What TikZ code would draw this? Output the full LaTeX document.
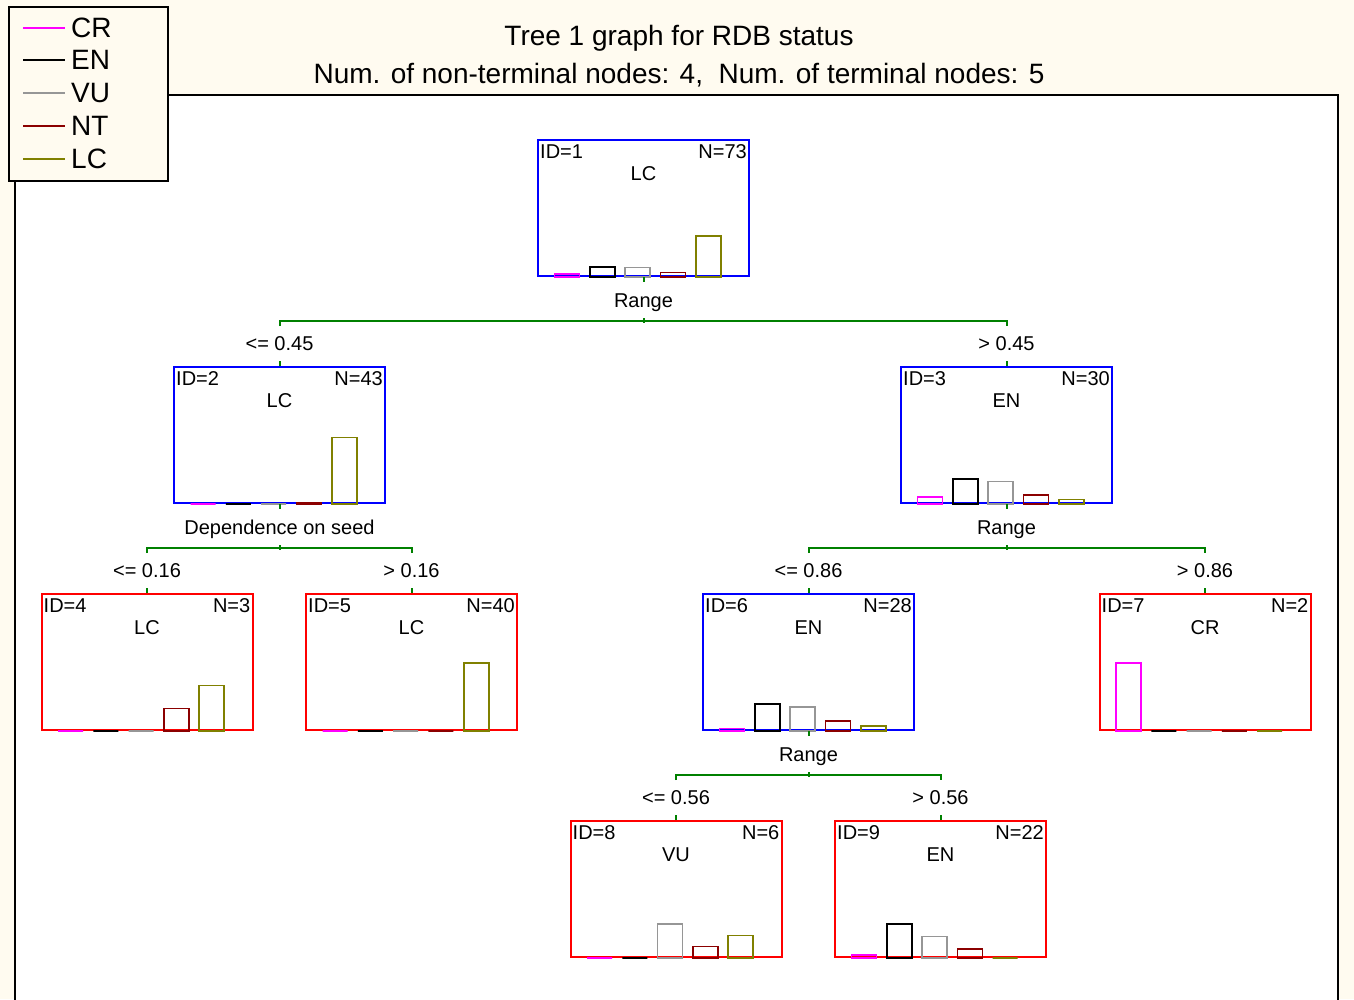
\documentclass[tikz,border=0pt]{standalone}
\usepackage{fontspec}
\setmainfont{Liberation Sans}
\usetikzlibrary{calc}
\definecolor{cream}{RGB}{255,251,240}
\definecolor{treegreen}{RGB}{0,128,0}
\definecolor{crc}{RGB}{255,0,255}
\definecolor{enc}{RGB}{0,0,0}
\definecolor{vuc}{RGB}{150,150,150}
\definecolor{ntc}{RGB}{139,0,0}
\definecolor{lcc}{RGB}{128,128,0}
\newcommand\histbars[7]{%
  \foreach \c/\v [count=\i from 0] in {crc/#3,enc/#4,vuc/#5,ntc/#6,lcc/#7}{%
    \draw[histbar,draw=\c] ($(#1.south west)+({17.5+35.3*\i},0)$) rectangle ++(25,{-68*\v/#2});
  }}
\newcommand\treenode[5]{% name, style, position, id, N
  \node[treebox,#2] (#1) at #3 {};
  \node[lbl,anchor=west] (#1id) at ($(#1.north west)+(3,12.5)$) {ID=#4};
  \node[lbl,anchor=east] (#1n) at ($(#1.north east)+(-3,12.5)$) {N=#5};
}
\newcommand\splitconn[6]{% parent, left child, right child, variable, left text, right text
  \draw[splitline] (#1.south) -- ++(0,5);
  \node[lbl] (#1var) at ($(#1.south)+(0,23.5)$) {#4};
  \draw[splitline] ($(#1.south)+(0,41)$) -- ++(0,5);
  \draw[splitline] ($(#2.north)+(0,-40)$) -- ($(#2.north)+(0,-45)$) -- ($(#3.north)+(0,-45)$) -- ($(#3.north)+(0,-40)$);
  \node[lbl] (#2cond) at ($(#2.north)+(0,-22)$) {#5};
  \node[lbl] (#3cond) at ($(#3.north)+(0,-22)$) {#6};
  \draw[splitline] ($(#2.north)+(0,-5)$) -- (#2.north);
  \draw[splitline] ($(#3.north)+(0,-5)$) -- (#3.north);
}
\begin{document}
\begin{tikzpicture}[x=1pt,y=-1pt,
  treebox/.style={draw,line width=2pt,minimum width=211pt,minimum height=136pt,inner sep=0pt,fill=white},
  nonterm/.style={draw=blue},
  term/.style={draw=red},
  lbl/.style={inner sep=0pt,text depth=0pt,font=\fontsize{20}{24}\selectfont},
  titletxt/.style={inner sep=0pt,text depth=0pt,font=\fontsize{28}{32}\selectfont},
  legtxt/.style={inner sep=0pt,text depth=0pt,anchor=west,font=\fontsize{28}{32}\selectfont},
  legline/.style={line width=2pt},
  splitline/.style={draw=treegreen,line width=2pt},
  histbar/.style={line width=1.6pt},
]
\useasboundingbox (0,0) rectangle (1354,999);
\fill[cream] (0,0) rectangle (1354,999);
\draw[line width=2pt,fill=white] (15,95) rectangle (1338,1012);

% title
\node[titletxt] (title1) at (679,35.3) {Tree 1 graph for RDB status};
\node[titletxt] (title2) at (679,73.5) {Num. of non-terminal nodes: 4,\ \ Num. of terminal nodes: 5};

% legend
\draw[line width=2pt,fill=cream] (9,7) rectangle (168,181);
\draw[legline,crc] (23,27.5) -- (65,27.5);
\node[legtxt] (legcr) at (71,27.5) {CR};
\draw[legline,enc] (23,60.3) -- (65,60.3);
\node[legtxt] (legen) at (71,60.3) {EN};
\draw[legline,vuc] (23,93) -- (65,93);
\node[legtxt] (legvu) at (71,93) {VU};
\draw[legline,ntc] (23,126) -- (65,126);
\node[legtxt] (legnt) at (71,126) {NT};
\draw[legline,lcc] (23,159) -- (65,159);
\node[legtxt] (leglc) at (71,159) {LC};

% nodes
\treenode{n1}{nonterm}{(643.5,208)}{1}{73}
\treenode{n2}{nonterm}{(279.5,435)}{2}{43}
\treenode{n3}{nonterm}{(1006.5,435)}{3}{30}
\treenode{n4}{term}{(147,662)}{4}{3}
\treenode{n5}{term}{(411.5,662)}{5}{40}
\treenode{n6}{nonterm}{(808.5,662)}{6}{28}
\treenode{n7}{term}{(1205,662)}{7}{2}
\treenode{n8}{term}{(676,889)}{8}{6}
\treenode{n9}{term}{(940.5,889)}{9}{22}

\node[lbl] (n1cls) at ($(n1.north)+(0,34.5)$) {LC};
\node[lbl] (n2cls) at ($(n2.north)+(0,34.5)$) {LC};
\node[lbl] (n3cls) at ($(n3.north)+(0,34.5)$) {EN};
\node[lbl] (n4cls) at ($(n4.north)+(0,34.5)$) {LC};
\node[lbl] (n5cls) at ($(n5.north)+(0,34.5)$) {LC};
\node[lbl] (n6cls) at ($(n6.north)+(0,34.5)$) {EN};
\node[lbl] (n7cls) at ($(n7.north)+(0,34.5)$) {CR};
\node[lbl] (n8cls) at ($(n8.north)+(0,34.5)$) {VU};
\node[lbl] (n9cls) at ($(n9.north)+(0,34.5)$) {EN};

% bars
\histbars{n1}{73}{3}{11}{10}{5}{44}
\histbars{n2}{43}{0}{0}{0}{1}{42}
\histbars{n3}{30}{3}{11}{10}{4}{2}
\histbars{n4}{3}{0}{0}{0}{1}{2}
\histbars{n5}{40}{0}{0}{0}{0}{40}
\histbars{n6}{28}{1}{11}{10}{4}{2}
\histbars{n7}{2}{2}{0}{0}{0}{0}
\histbars{n8}{6}{0}{0}{3}{1}{2}
\histbars{n9}{22}{1}{11}{7}{3}{0}

% splits
\splitconn{n1}{n2}{n3}{Range}{<= 0.45}{> 0.45}
\splitconn{n2}{n4}{n5}{Dependence on seed}{<= 0.16}{> 0.16}
\splitconn{n3}{n6}{n7}{Range}{<= 0.86}{> 0.86}
\splitconn{n6}{n8}{n9}{Range}{<= 0.56}{> 0.56}
\end{tikzpicture}
\end{document}
